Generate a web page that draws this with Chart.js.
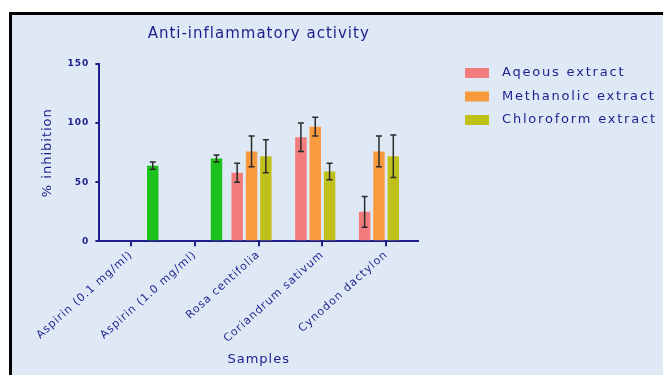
<!DOCTYPE html>
<html>
<head>
<meta charset="utf-8">
<script src="https://cdn.jsdelivr.net/npm/chart.js@4"></script>
<style>
  html, body { margin: 0; padding: 0; background: #ffffff; }
  #frame {
    position: absolute; left: 9px; top: 12px; width: 700px; height: 400px;
    border-top: 3px solid #000; border-left: 3px solid #000;
    background: #dfe9f6;
  }
  #wrap { position: absolute; left: 0; top: 0; width: 663px; height: 375px; }
</style>
</head>
<body>
<div id="frame"></div>
<div id="wrap"><canvas id="chart"></canvas></div>
<script>
// données
const samples = ["Aspirin (0.1 mg/ml)", "Aspirin (1.0 mg/ml)", "Rosa centifolia", "Coriandrum sativum", "Cynodon dactylon"];
const aqueous = [null, null, 58, 88, 25];
const aqueousErr = [0, 0, 8, 12, 13];
const methanolic = [null, null, 76, 97, 76];
const methanolicErr = [0, 0, 13, 8, 13];
const chloroform = [null, null, 72, 59, 72];
const chloroformErr = [0, 0, 14, 7, 18];
const aspirin = [64, 70, null, null, null];
const aspirinErr = [3, 3, 0, 0, 0];
const yTicks = [0, 50, 100, 150];

const navy = "#1e1e8c";
const fontFam = "'DejaVu Sans', sans-serif";

// texte un peu espacé comme sur l'original
const spacing = {
  id: "spacing",
  beforeUpdate(chart) { chart.ctx.letterSpacing = "1px"; },
  beforeDraw(chart) { chart.ctx.letterSpacing = "1px"; }
};

// barres d'erreur dessinées avec les échelles du graphique
const errorBars = {
  id: "errorBars",
  afterDatasetsDraw(chart) {
    const ctx = chart.ctx;
    const yScale = chart.scales.y;
    ctx.save();
    ctx.strokeStyle = "#2b2b2b";
    ctx.lineWidth = 1.5;
    chart.data.datasets.forEach((ds, i) => {
      const meta = chart.getDatasetMeta(i);
      meta.data.forEach((bar, j) => {
        const v = ds.data[j];
        const e = ds.errors[j];
        if (v == null || !e) return;
        const yTop = yScale.getPixelForValue(v + e);
        const yBot = yScale.getPixelForValue(v - e);
        ctx.beginPath();
        ctx.moveTo(bar.x, yTop);
        ctx.lineTo(bar.x, yBot);
        ctx.moveTo(bar.x - 3, yTop);
        ctx.lineTo(bar.x + 3, yTop);
        ctx.moveTo(bar.x - 3, yBot);
        ctx.lineTo(bar.x + 3, yBot);
        ctx.stroke();
      });
    });
    ctx.restore();
  }
};

// légende à droite (sans la série aspirine)
const sideLegend = {
  id: "sideLegend",
  afterDraw(chart) {
    const ctx = chart.ctx;
    const x0 = chart.chartArea.right + 47;
    const y0 = 73;
    ctx.save();
    ctx.font = "13px " + fontFam;
    ctx.letterSpacing = "1.8px";
    ctx.textBaseline = "middle";
    chart.data.datasets.slice(0, 3).forEach((ds, i) => {
      const y = y0 + i * 23.5;
      ctx.fillStyle = ds.backgroundColor;
      ctx.fillRect(x0, y - 5, 24, 10);
      ctx.fillStyle = navy;
      ctx.fillText(ds.label, x0 + 37, y);
    });
    ctx.restore();
  }
};

new Chart(document.getElementById("chart"), {
  type: "bar",
  data: {
    labels: samples,
    datasets: [
      { label: "Aqeous extract", data: aqueous, errors: aqueousErr, backgroundColor: "#f27b7b" },
      { label: "Methanolic extract", data: methanolic, errors: methanolicErr, backgroundColor: "#f99a3f" },
      { label: "Chloroform extract", data: chloroform, errors: chloroformErr, backgroundColor: "#c0c01a" },
      { label: "Aspirin", data: aspirin, errors: aspirinErr, backgroundColor: "#1cc21c" }
    ]
  },
  options: {
    responsive: true,
    maintainAspectRatio: false,
    animation: false,
    categoryPercentage: 0.9,
    barPercentage: 0.8,
    layout: { padding: { left: 40, right: 245, top: 10, bottom: 8 } },
    plugins: {
      legend: { display: false },
      tooltip: { enabled: false },
      title: {
        display: true,
        fullSize: false,
        text: "Anti-inflammatory activity",
        color: navy,
        font: { family: fontFam, size: 15, weight: "normal" },
        padding: { top: 15, bottom: 21 }
      }
    },
    scales: {
      y: {
        min: 0,
        max: 150,
        afterBuildTicks(scale) { scale.ticks = yTicks.map(v => ({ value: v })); },
        border: { color: navy, width: 2 },
        grid: { display: true, drawOnChartArea: false, drawTicks: true, tickLength: 4, color: navy, lineWidth: 2 },
        ticks: {
          color: navy,
          padding: 6,
          font: { family: fontFam, size: 9, weight: "bold" }
        },
        title: {
          display: true,
          text: "% inhibition",
          color: navy,
          font: { family: fontFam, size: 13 },
          padding: { top: 0, bottom: 6 }
        }
      },
      x: {
        offset: true,
        border: { color: navy, width: 2 },
        grid: { display: true, offset: false, drawOnChartArea: false, drawTicks: true, tickLength: 5, color: navy, lineWidth: 2 },
        ticks: {
          color: navy,
          minRotation: 42,
          maxRotation: 42,
          padding: 2,
          font: { family: fontFam, size: 11 }
        },
        title: {
          display: true,
          text: "Samples",
          color: navy,
          font: { family: fontFam, size: 13 },
          padding: { top: 4, bottom: 0 }
        }
      }
    }
  },
  plugins: [spacing, errorBars, sideLegend]
});
</script>
</body>
</html>
